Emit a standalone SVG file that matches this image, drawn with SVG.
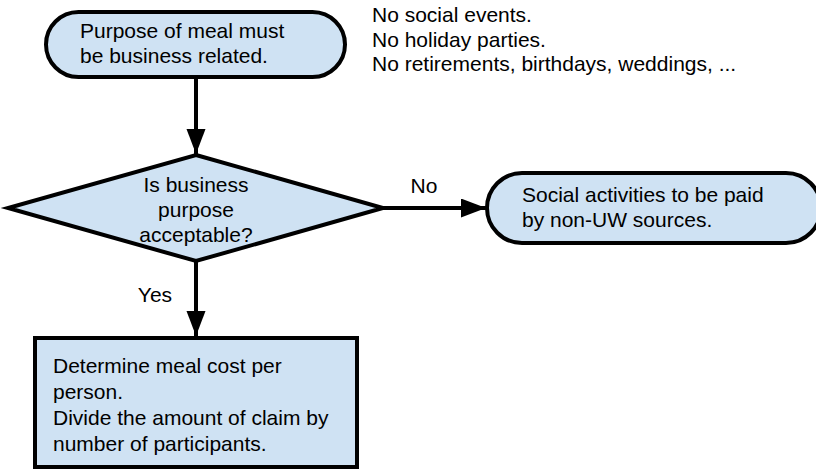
<svg xmlns="http://www.w3.org/2000/svg" width="816" height="471" viewBox="0 0 816 471">
  <defs>
    <marker id="arrow" markerUnits="userSpaceOnUse" markerWidth="26" markerHeight="20" refX="25" refY="9.5" orient="auto">
      <path d="M0,0 L25,9.5 L0,19 z" fill="#000"/>
    </marker>
    <style>
      .shape { fill: #cfe2f3; stroke: #000; stroke-width: 4; }
      .edge { fill: none; stroke: #000; stroke-width: 4; marker-end: url(#arrow); }
      text { font-family: "Liberation Sans", Arial, sans-serif; font-size: 21px; fill: #000; }
      .c { text-anchor: middle; }
    </style>
  </defs>
  <rect width="816" height="471" fill="#fff"/>

  <!-- connectors -->
  <g id="connectors">
    <line class="edge" x1="196" y1="77" x2="196" y2="154"/>
    <line class="edge" x1="383" y1="208" x2="486" y2="208"/>
    <line class="edge" x1="196" y1="260" x2="196" y2="336"/>
    <text x="424" y="193" class="c">No</text>
    <text x="155" y="302" class="c">Yes</text>
  </g>

  <!-- start: purpose of meal -->
  <g id="start">
    <rect class="shape" x="46" y="12" width="299" height="65" rx="32.5" ry="32.5"/>
    <text x="80" y="38">Purpose of meal must</text>
    <text x="80" y="63">be business related.</text>
  </g>

  <!-- note: excluded events -->
  <g id="note">
    <text x="372" y="22">No social events.</text>
    <text x="372" y="46.5">No holiday parties.</text>
    <text x="372" y="71">No retirements, birthdays, weddings, ...</text>
  </g>

  <!-- decision -->
  <g id="decision">
    <polygon class="shape" points="196,155 383,208 196,261 8,208"/>
    <text x="196" y="192" class="c">Is business</text>
    <text x="196" y="217" class="c">purpose</text>
    <text x="196" y="242" class="c">acceptable?</text>
  </g>

  <!-- outcome: not acceptable (runs off the right edge) -->
  <g id="social">
    <rect class="shape" x="487" y="173" width="334" height="70" rx="35" ry="35"/>
    <text x="522" y="202">Social activities to be paid</text>
    <text x="522" y="227">by non-UW sources.</text>
  </g>

  <!-- outcome: acceptable -->
  <g id="cost">
    <rect class="shape" x="35" y="338" width="322" height="129"/>
    <text x="53" y="373">Determine meal cost per</text>
    <text x="53" y="399">person.</text>
    <text x="53" y="425">Divide the amount of claim by</text>
    <text x="53" y="451">number of participants.</text>
  </g>
</svg>
